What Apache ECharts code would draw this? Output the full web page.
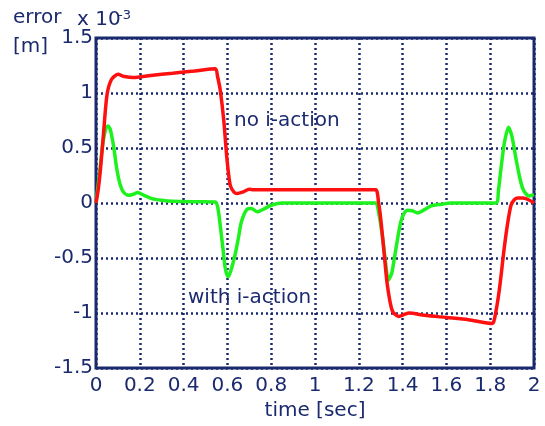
<!DOCTYPE html>
<html>
<head>
<meta charset="utf-8">
<script src="https://cdn.jsdelivr.net/npm/echarts@6/dist/echarts.min.js"></script>
<style>
  html, body { margin: 0; padding: 0; background: #fff; }
  #chart { width: 545px; height: 426px; }
</style>
</head>
<body>
<div id="chart"></div>
<script>
// time axis samples [sec] and error values [x 10^-3 m]
const redTime = [0, 0.01, 0.02, 0.035, 0.05, 0.07, 0.1, 0.13, 0.17, 0.25, 0.35, 0.45, 0.545, 0.555, 0.567,
  0.583, 0.598, 0.613, 0.63, 0.645, 0.67, 0.7, 0.72, 0.8, 1.0, 1.2, 1.277, 1.29, 1.3, 1.315, 1.33, 1.353,
  1.383, 1.41, 1.43, 1.5, 1.6, 1.7, 1.81, 1.82, 1.841, 1.864, 1.88, 1.895, 1.91, 1.926, 1.95, 1.975, 2.0]
const redError = [0, 0.12, 0.3, 0.65, 0.98, 1.12, 1.17, 1.15, 1.14, 1.16, 1.18, 1.2, 1.22, 1.15, 1.03,
  0.76, 0.4, 0.16, 0.1, 0.086, 0.1, 0.125, 0.12, 0.12, 0.12, 0.12, 0.12, 0.01, -0.14, -0.44, -0.74, -0.98,
  -1.03, -1.01, -1.0, -1.02, -1.04, -1.06, -1.095, -1.05, -0.8, -0.41, -0.18, -0.02, 0.03, 0.047, 0.045, 0.03, 0.0]

const greenTime = [0, 0.015, 0.03, 0.045, 0.055, 0.065, 0.08, 0.095, 0.11, 0.125, 0.148, 0.17, 0.19, 0.22,
  0.255, 0.3, 0.35, 0.45, 0.545, 0.557, 0.567, 0.58, 0.59, 0.603, 0.615, 0.635, 0.65, 0.664, 0.69, 0.71,
  0.736, 0.77, 0.8, 0.85, 1.0, 1.2, 1.277, 1.29, 1.307, 1.32, 1.335, 1.35, 1.36, 1.375, 1.39, 1.405, 1.422,
  1.445, 1.468, 1.5, 1.53, 1.58, 1.62, 1.7, 1.826, 1.838, 1.849, 1.865, 1.884, 1.9, 1.918, 1.935, 1.949,
  1.965, 1.979, 2.0]
const greenError = [0, 0.25, 0.52, 0.68, 0.7, 0.67, 0.52, 0.31, 0.17, 0.1, 0.07, 0.08, 0.095, 0.07,
  0.04, 0.025, 0.016, 0.012, 0.01, -0.05, -0.2, -0.42, -0.59, -0.67, -0.62, -0.47, -0.32, -0.17, -0.056, -0.05,
  -0.08, -0.05, -0.02, 0, 0, 0, 0, -0.08, -0.29, -0.5, -0.7, -0.64, -0.53, -0.35, -0.185, -0.1, -0.065,
  -0.07, -0.09, -0.06, -0.025, -0.01, 0, 0, 0, 0.12, 0.31, 0.55, 0.69, 0.6, 0.4, 0.23, 0.13,
  0.08, 0.065, 0.076]

const xTicks = [0, 0.2, 0.4, 0.6, 0.8, 1, 1.2, 1.4, 1.6, 1.8, 2]
const yTicks = [-1.5, -1, -0.5, 0, 0.5, 1, 1.5]

const navy = '#1b2a6e'
const font = 'DejaVu Sans'

const chart = echarts.init(document.getElementById('chart'))

const pairs = (xs, ys) => xs.map((x, i) => [x, ys[i]])

chart.setOption({
  animation: false,
  grid: {
    left: 96, right: 11, top: 38, bottom: 55,
    show: true, borderColor: navy, borderWidth: 3
  },
  xAxis: {
    type: 'value',
    min: xTicks[0], max: xTicks[xTicks.length - 1], interval: 0.2,
    name: 'time [sec]', nameLocation: 'middle', nameGap: 32,
    nameTextStyle: { color: navy, fontFamily: font, fontSize: 20 },
    axisLine: { show: false },
    axisTick: { show: false },
    axisLabel: {
      color: navy, fontFamily: font, fontSize: 20, margin: 8,
      formatter: v => String(+v.toFixed(1))
    },
    splitLine: { show: true, lineStyle: { color: navy, width: 2.5, type: [2, 3] } }
  },
  yAxis: {
    type: 'value',
    min: yTicks[0], max: yTicks[yTicks.length - 1], interval: 0.5,
    axisLine: { show: false },
    axisTick: { show: false },
    axisLabel: {
      color: navy, fontFamily: font, fontSize: 20, margin: 3,
      formatter: v => String(+v.toFixed(1))
    },
    splitLine: { show: true, lineStyle: { color: navy, width: 2.5, type: [2, 3] } }
  },
  graphic: [
    { type: 'text', left: 13, top: 8, style: { text: 'error', font: '20px "DejaVu Sans"', fill: navy } },
    { type: 'text', left: 13, top: 37, style: { text: '[m]', font: '20px "DejaVu Sans"', fill: navy } },
    { type: 'text', left: 77, top: 10, style: { text: 'x 10', font: '20px "DejaVu Sans"', fill: navy } },
    { type: 'text', left: 118, top: 9, style: { text: '-3', font: '13px "DejaVu Sans"', fill: navy } },
    { type: 'text', left: 234, top: 111, style: { text: 'no i-action', font: '20px "DejaVu Sans"', fill: navy } },
    { type: 'text', left: 188, top: 288, style: { text: 'with i-action', font: '20px "DejaVu Sans"', fill: navy } }
  ],
  series: [
    {
      name: 'with i-action',
      type: 'line',
      data: pairs(greenTime, greenError),
      showSymbol: false,
      smooth: 0.25,
      lineStyle: { color: '#1ef21e', width: 3.5 },
      z: 3
    },
    {
      name: 'no i-action',
      type: 'line',
      data: pairs(redTime, redError),
      showSymbol: false,
      smooth: 0.25,
      lineStyle: { color: '#ff1010', width: 3.5 },
      z: 4
    }
  ]
})
</script>
</body>
</html>
